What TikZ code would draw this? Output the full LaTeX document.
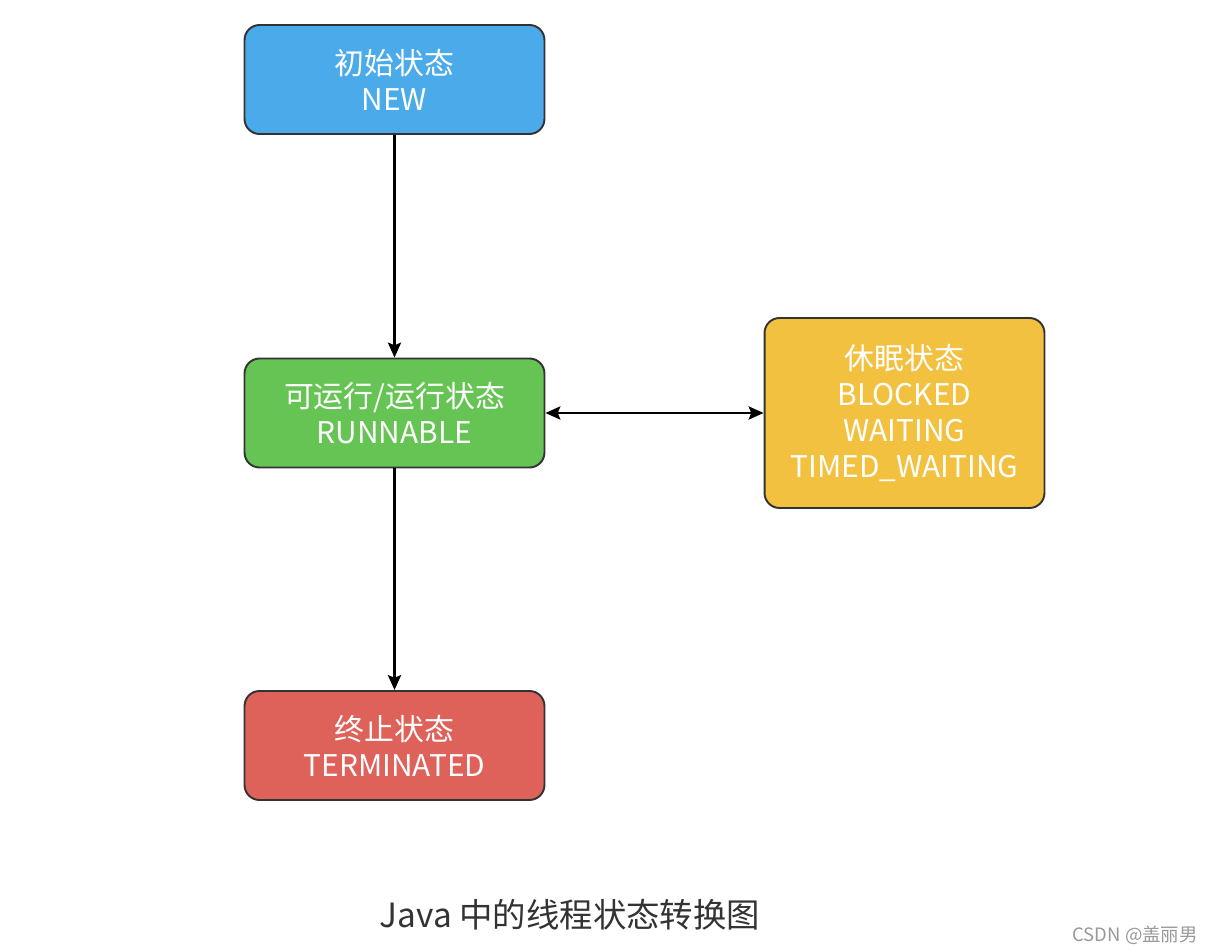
\documentclass[tikz,border=0pt]{standalone}
\usepackage{fontspec}
\setmainfont{Noto Sans CJK SC}
\usetikzlibrary{arrows.meta}
\definecolor{newblue}{HTML}{4BABEA}
\definecolor{rungreen}{HTML}{66C455}
\definecolor{sleepyellow}{HTML}{F2C13F}
\definecolor{termred}{HTML}{DF625A}
\tikzset{
  state/.style={draw=black!80,line width=1.1pt,rounded corners=0.3cm,text=white,
    align=center,font=\fontsize{17}{20.4}\selectfont,minimum width=6cm,minimum height=2.18cm},
  link/.style={line width=1.2pt,black}
}
\begin{document}
\begin{tikzpicture}[x=0.02cm,y=-0.02cm,>={Stealth[length=8.5pt,width=7.5pt,inset=1.5pt]}]
  \useasboundingbox[fill=white] (0,0) rectangle (1214,952);
  \node[state,fill=newblue] (new) at (394.5,79.5) {初始状态\\NEW};
  \node[state,fill=rungreen] (runnable) at (394.5,413) {可运行/运行状态\\RUNNABLE};
  \node[state,fill=sleepyellow,minimum width=5.6cm,minimum height=3.8cm] (sleeping) at (904.5,413)
    {休眠状态\\BLOCKED\\WAITING\\TIMED\_WAITING};
  \node[state,fill=termred] (terminated) at (394.5,745.5) {终止状态\\TERMINATED};
  \draw[link,->] (new) -- (runnable);
  \draw[link,<->] (runnable) -- (sleeping);
  \draw[link,->] (runnable) -- (terminated);
  \node[text=black!80,font=\fontsize{19}{22}\selectfont] (caption) at (570,915) {Java 中的线程状态转换图};
  \node[text=black!40,font=\fontsize{10.5}{12}\selectfont,anchor=east] (mark) at (1204,935) {CSDN @盖丽男};
\end{tikzpicture}
\end{document}
